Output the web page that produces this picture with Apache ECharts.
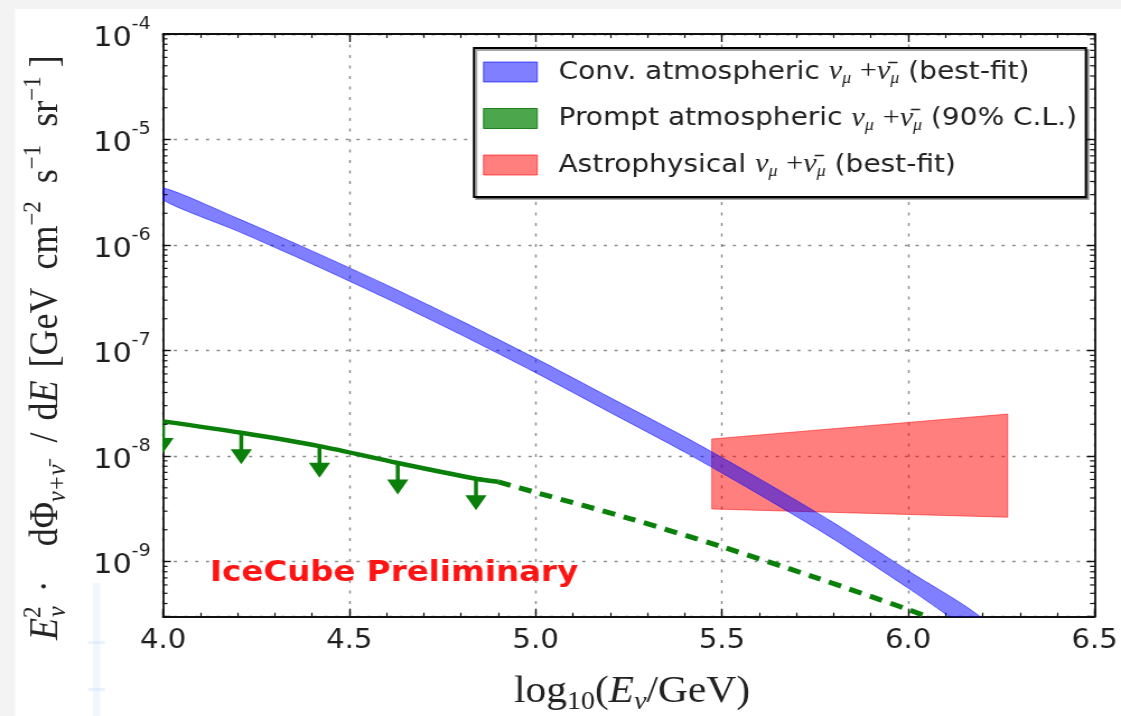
<!DOCTYPE html>
<html>
<head>
<meta charset="utf-8">
<script src="https://cdn.jsdelivr.net/npm/echarts@6/dist/echarts.min.js"></script>
<style>
  html, body { margin: 0; padding: 0; background: #f3f3f3; overflow: hidden; }
  /* the figure is drawn 1001 px wide and widened to the full 1121 px page */
  #chart { width: 1001px; height: 716px; transform: scaleX(1.11988); transform-origin: 0 0; }
</style>
</head>
<body>
<div id="chart"></div>
<script>
// ---- axes ---------------------------------------------------------------
const xMin = 4.0, xMax = 6.5, xStep = 0.5;          // log10(E / GeV)
const yMin = 3e-10, yMax = 1e-4;                    // E^2 dPhi/dE, log scale

// ---- conventional atmospheric flux (best-fit band edges) ----------------
const convE    = [4.0, 4.2, 4.4, 4.6, 4.8, 5.0, 5.2, 5.4, 5.6, 5.8, 6.0, 6.2];
const convHigh = [3.49e-6, 1.79e-6, 8.79e-7, 4.18e-7, 1.91e-7, 8.43e-8, 3.58e-8, 1.52e-8, 6.10e-9, 2.33e-9, 8.17e-10, 2.86e-10];
const convLow  = [2.67e-6, 1.355e-6, 6.61e-7, 3.11e-7, 1.41e-7, 6.17e-8, 2.59e-8, 1.09e-8, 4.32e-9, 1.63e-9, 5.60e-10, 1.92e-10];

// ---- prompt atmospheric flux, 90% C.L. upper limit ----------------------
const promptE       = [4.0, 4.21, 4.42, 4.63, 4.84, 4.9];
const promptFlux    = [2.13e-8, 1.66e-8, 1.24e-8, 8.6e-9, 6.1e-9, 5.7e-9];
const promptExtE    = [4.9, 5.0, 5.25, 5.5, 5.75, 6.0, 6.06];
const promptExtFlux = [5.7e-9, 4.52e-9, 2.57e-9, 1.38e-9, 7.08e-10, 3.51e-10, 2.92e-10];
const limitE        = [4.0, 4.21, 4.42, 4.63, 4.84];
const limitFlux     = [2.13e-8, 1.66e-8, 1.24e-8, 8.6e-9, 6.1e-9];

// ---- astrophysical flux (best-fit band edges) ---------------------------
const astroE    = [5.473, 6.267];
const astroHigh = [1.45e-8, 2.50e-8];
const astroLow  = [3.15e-9, 2.63e-9];

// ---- names ---------------------------------------------------------------
const convName   = 'Conv. atmospheric';
const promptName = 'Prompt atmospheric';
const astroName  = 'Astrophysical';
const legendText = {
  [convName]:   '{g|\u00a0}Conv. atmospheric {nu|\u03bd}{mu|\u03bc} {pl|+}{nu|\u03bd\u0304}{mu|\u03bc} (best-fit)',
  [promptName]: '{g|\u00a0}Prompt atmospheric {nu|\u03bd}{mu|\u03bc} {pl|+}{nu|\u03bd\u0304}{mu|\u03bc} (90% C.L.)',
  [astroName]:  '{g|\u00a0}Astrophysical {nu|\u03bd}{mu|\u03bc} {pl|+}{nu|\u03bd\u0304}{mu|\u03bc} (best-fit)'
};

// ---- colours -------------------------------------------------------------
const blueFill   = 'rgba(0,0,255,0.5)';
const redFill    = 'rgba(255,0,0,0.5)';
const greenLine  = '#0a7f0a';
const greenPatch = 'rgba(0,128,0,0.7)';

const S = 1121 / 1001;            // horizontal widening of the chart box
const px = v => v / S;            // page x -> chart x

const zip = (a, b) => a.map((v, i) => [v, b[i]]);

// decade sub-ticks (2..9 x 10^n) for the log axis
const minorVals = [];
for (let d = -10; d < -4; d++) {
  for (let k = 2; k <= 9; k++) {
    const v = k * Math.pow(10, d);
    if (v > yMin && v < yMax) minorVals.push([xMin, v]);
  }
}

function band(name, xs, lo, hi, fill, z, smooth) {
  return {
    type: 'custom', name: name, coordinateSystem: 'cartesian2d', clip: true, z: z, silent: true,
    itemStyle: { color: fill },
    data: [[xs[0], hi[0]]],
    renderItem: function (params, api) {
      const pts = [];
      for (let i = 0; i < xs.length; i++) pts.push(api.coord([xs[i], hi[i]]));
      for (let i = xs.length - 1; i >= 0; i--) pts.push(api.coord([xs[i], lo[i]]));
      return { type: 'polygon', shape: { points: pts, smooth: smooth },
               style: { fill: fill, stroke: fill, lineWidth: 1 } };
    }
  };
}

const gridLineV = { show: true, lineStyle: { color: '#8a8a8a', width: 1.4, type: [3, 7.5] } };
const gridLineH = { show: true, lineStyle: { color: '#8a8a8a', width: 1.4, type: [2.8, 6.8] } };
const axisLine = { show: true, onZero: false, lineStyle: { color: '#111', width: 1.8 } };
const tickStyle = { color: '#111', width: 1.4 };

// rich-text styles for the serif axis titles
const serif = 'Liberation Serif';
const titleRich = {
  rm:   { fontFamily: serif, fontSize: 36, lineHeight: 46, verticalAlign: 'middle', fill: '#222' },
  it:   { fontFamily: serif, fontStyle: 'italic', fontSize: 36, lineHeight: 46, verticalAlign: 'middle', fill: '#222' },
  sup2: { fontFamily: serif, fontSize: 23, lineHeight: 24, width: 1, verticalAlign: 'top', fill: '#222' },
  sup:  { fontFamily: serif, fontSize: 23, lineHeight: 24, verticalAlign: 'top', fill: '#222' },
  sub:  { fontFamily: serif, fontStyle: 'italic', fontSize: 24, lineHeight: 18, verticalAlign: 'bottom', fill: '#222' },
  ga:   { width: 14 },
  gb:   { width: 34 },
  gc:   { width: 22 },
  gd:   { width: 12 },
  ge:   { width: 13 }
};

const chart = echarts.init(document.getElementById('chart'), null, { renderer: 'canvas' });

chart.setOption({
  backgroundColor: '#ffffff',
  animation: false,
  grid: { left: px(163), right: px(21), top: 34, bottom: 99.3, containLabel: false },
  xAxis: [{
    type: 'value', position: 'bottom', min: xMin, max: xMax, interval: xStep,
    axisLine: axisLine,
    axisTick: { show: true, inside: true, length: 8, lineStyle: tickStyle },
    minorTick: { show: true, splitNumber: 5, length: 4, lineStyle: { color: '#111', width: 1.2 } },
    splitLine: gridLineV,
    axisLabel: {
      margin: 12, color: '#1e1e1e', fontFamily: 'DejaVu Sans', fontSize: 26,
      formatter: v => v.toFixed(1)
    }
  }, {
    type: 'value', position: 'top', min: xMin, max: xMax, interval: xStep,
    axisLine: axisLine,
    axisTick: { show: true, inside: true, length: 8, lineStyle: tickStyle },
    minorTick: { show: true, splitNumber: 5, length: 4, lineStyle: { color: '#111', width: 1.2 } },
    splitLine: { show: false },
    axisLabel: { show: false }
  }],
  yAxis: [{
    type: 'log', logBase: 10, position: 'left', min: yMin, max: yMax,
    axisLine: axisLine,
    axisTick: { show: true, inside: true, length: 7, lineStyle: tickStyle },
    splitLine: gridLineH,
    axisLabel: {
      margin: 11, color: '#1e1e1e',
      formatter: function (v) {
        const e = Math.log10(v), r = Math.round(e);
        if (Math.abs(e - r) > 1e-6) return '';
        return '{b|10}{s|' + r + '}';
      },
      rich: {
        b: { fontFamily: 'DejaVu Sans', fontSize: 27, lineHeight: 36, verticalAlign: 'bottom', color: '#1e1e1e' },
        s: { fontFamily: 'DejaVu Sans', fontSize: 17, lineHeight: 20, verticalAlign: 'top', color: '#1e1e1e' }
      }
    }
  }, {
    type: 'log', logBase: 10, position: 'right', min: yMin, max: yMax,
    axisLine: axisLine,
    axisTick: { show: true, inside: true, length: 7, lineStyle: tickStyle },
    splitLine: { show: false },
    axisLabel: { show: false }
  }],
  legend: {
    orient: 'vertical', left: px(474), top: 48,
    padding: [9, 8, 17, 8],
    itemWidth: 48, itemHeight: 20, itemGap: 16.5,
    backgroundColor: '#ffffff', borderColor: '#000', borderWidth: 2, borderRadius: 0,
    shadowColor: 'rgba(0,0,0,0.35)', shadowOffsetX: 2, shadowOffsetY: 2, shadowBlur: 0,
    selectedMode: false,
    data: [
      { name: convName, icon: 'rect', itemStyle: { color: blueFill, borderColor: 'rgba(0,0,255,0.6)', borderWidth: 1 } },
      { name: promptName, icon: 'rect', itemStyle: { color: greenPatch, borderColor: 'rgba(0,110,0,0.8)', borderWidth: 1 } },
      { name: astroName, icon: 'rect', itemStyle: { color: redFill, borderColor: 'rgba(255,0,0,0.6)', borderWidth: 1 } }
    ],
    formatter: name => legendText[name],
    textStyle: {
      fontFamily: 'DejaVu Sans', fontSize: 25, lineHeight: 30, color: '#222',
      rich: {
        g: { width: 14, fontSize: 10 },
        nu: { fontFamily: serif, fontStyle: 'italic', fontSize: 27, color: '#222' },
        mu: { fontFamily: serif, fontStyle: 'italic', fontSize: 16, lineHeight: 14, verticalAlign: 'bottom', color: '#222' },
        pl: { fontFamily: serif, fontSize: 27, color: '#222' }
      }
    }
  },
  series: [
    band(astroName, astroE, astroLow, astroHigh, redFill, 2, 0),
    band(convName, convE, convLow, convHigh, blueFill, 3, 0.25),
    {
      type: 'line', name: promptName, data: zip(promptE, promptFlux), showSymbol: false, z: 4, silent: true,
      smooth: 0.3,
      itemStyle: { color: greenPatch },
      lineStyle: { color: greenLine, width: 4.5 }
    },
    {
      type: 'line', name: 'prompt-ext', data: zip(promptExtE, promptExtFlux), showSymbol: false, z: 4, silent: true,
      smooth: 0.3,
      lineStyle: { color: greenLine, width: 5, type: [11.5, 8] }
    },
    {
      type: 'custom', name: 'prompt-limits', coordinateSystem: 'cartesian2d', clip: true, z: 4, silent: true,
      data: zip(limitE, limitFlux),
      renderItem: function (params, api) {
        const p = api.coord([api.value(0), api.value(1)]);
        return {
          type: 'group', children: [
            { type: 'line', shape: { x1: p[0], y1: p[1], x2: p[0], y2: p[1] + 18 }, style: { stroke: greenLine, lineWidth: 3.5 } },
            { type: 'polygon', shape: { points: [[p[0] - 9.5, p[1] + 16.5], [p[0] + 9.5, p[1] + 16.5], [p[0], p[1] + 31.5]] },
              style: { fill: greenLine } }
          ]
        };
      }
    },
    {
      type: 'custom', name: 'minor-ticks', coordinateSystem: 'cartesian2d', clip: false, z: 5, silent: true,
      data: minorVals,
      renderItem: function (params, api) {
        const p = api.coord([api.value(0), api.value(1)]);
        const cs = params.coordSys;
        return {
          type: 'group', children: [
            { type: 'line', shape: { x1: cs.x, y1: p[1], x2: cs.x + 4, y2: p[1] }, style: { stroke: '#111', lineWidth: 1.2 } },
            { type: 'line', shape: { x1: cs.x + cs.width, y1: p[1], x2: cs.x + cs.width - 4, y2: p[1] }, style: { stroke: '#111', lineWidth: 1.2 } }
          ]
        };
      }
    }
  ],
  graphic: [
    // page margin strips
    { type: 'rect', left: 0, top: 0, shape: { width: px(15), height: 716 }, style: { fill: '#f3f3f3' }, silent: true },
    { type: 'rect', left: 0, top: 0, shape: { width: 1001, height: 9 }, style: { fill: '#f3f3f3' }, silent: true },
    // faint marks in the left margin
    { type: 'rect', x: px(93), y: 583, shape: { width: px(7), height: 133 }, style: { fill: 'rgba(205,225,248,0.3)' }, silent: true },
    { type: 'rect', x: px(88), y: 641, shape: { width: px(17), height: 3 }, style: { fill: 'rgba(205,225,248,0.4)' }, silent: true },
    { type: 'rect', x: px(88), y: 688, shape: { width: px(17), height: 3 }, style: { fill: 'rgba(205,225,248,0.4)' }, silent: true },
    // y-axis title, written bottom to top from its anchor
    {
      type: 'text', x: px(46), y: 640, rotation: Math.PI / 2, silent: true, z: 10,
      style: {
        text: '{it|E}{sup2|2}{sub|\u03bd}{ga| }{rm|\u00b7}{gb| }{rm|d\u03a6}{sub|\u03bd+\u03bd\u0304}{gc| }{rm|/}{gd| }{rm|d}{it|E}{ge| }' +
              '{rm|[GeV  cm}{sup|\u22122}{rm|  s}{sup|\u22121}{rm|  sr}{sup|\u22121}{rm| ]}',
        align: 'left', verticalAlign: 'middle', fill: '#222',
        fontFamily: serif, fontSize: 36,
        rich: titleRich
      }
    },
    // x-axis title
    {
      type: 'text', x: px(632), y: 692, silent: true, z: 10,
      style: {
        text: '{rm|log}{sub|10}{rm|(}{it|E}{subi|\u03bd}{rm|/GeV)}',
        align: 'center', verticalAlign: 'middle', fill: '#222',
        rich: {
          rm: { fontFamily: serif, fontSize: 37, lineHeight: 46, verticalAlign: 'middle', fill: '#222' },
          it: { fontFamily: serif, fontStyle: 'italic', fontSize: 37, lineHeight: 46, verticalAlign: 'middle', fill: '#222' },
          sub: { fontFamily: serif, fontSize: 25, lineHeight: 20, verticalAlign: 'bottom', fill: '#222' },
          subi: { fontFamily: serif, fontStyle: 'italic', fontSize: 25, lineHeight: 20, verticalAlign: 'bottom', fill: '#222' }
        }
      }
    },
    // experiment tag
    {
      type: 'text', x: px(210), y: 573, silent: true, z: 10,
      style: { text: 'IceCube Preliminary', fontFamily: 'DejaVu Sans', fontWeight: 'bold', fontSize: 29,
               fill: '#ff1414', align: 'left', verticalAlign: 'middle' }
    }
  ]
});
</script>
</body>
</html>
